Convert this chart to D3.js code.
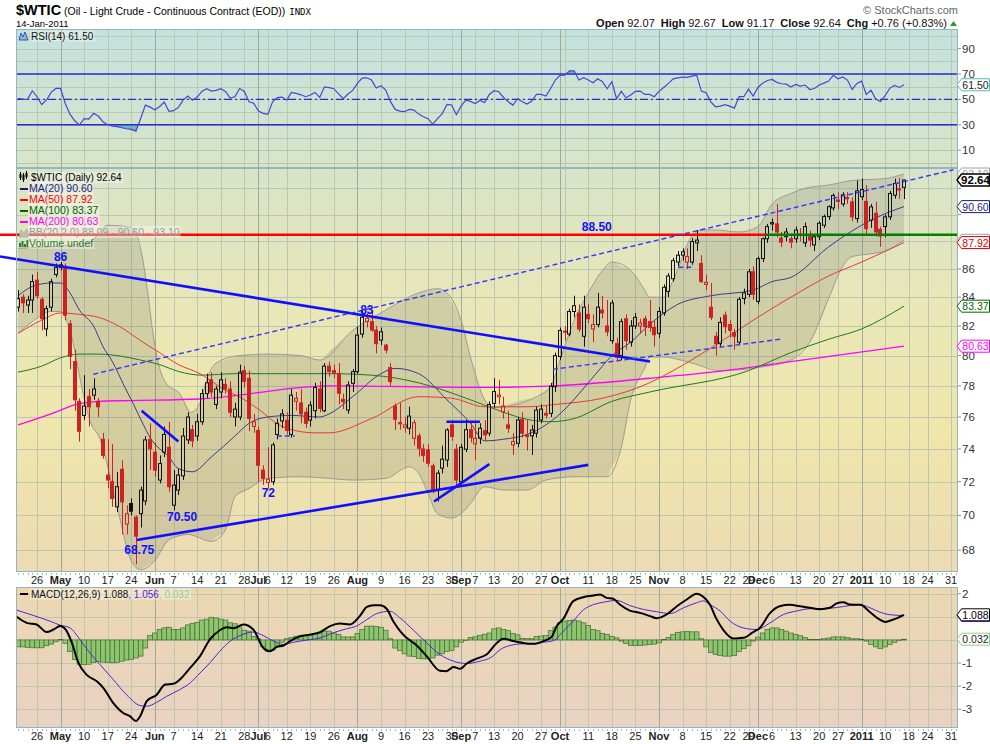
<!DOCTYPE html>
<html><head><meta charset="utf-8">
<script src="https://cdn.jsdelivr.net/npm/d3@7"></script>
<style>body{margin:0;background:#fff}svg{display:block}text{font-family:"Liberation Sans",Arial,sans-serif}</style>
</head><body><svg id="c" width="990" height="744"></svg>
<script>
// ---------------- DATA ----------------
// daily candles, first bar = 2010-04-20, last bar = 2011-01-14
const dataStart = "2010-04-20";
const holidays = ["2010-05-31","2010-07-05","2010-09-06","2010-11-25","2010-12-24","2011-01-17"];
const opens = [83.3,84.0,83.45,83.8,85.2,83.85,81.8,83.3,85.6,86.1,
86.15,82.15,79.6,77.0,76.1,77.3,77.4,77.0,74.6,72.4,
72.0,70.5,72.75,69.5,70.7,69.9,70.1,70.85,74.6,73.8,
72.1,73.8,74.1,70.6,71.5,72.35,74.56,75.2,74.8,75.7,
77.5,78.4,76.8,77.6,78.1,77.8,76.0,76.0,79.0,78.5,
75.4,75.15,72.7,71.95,72.0,74.9,75.75,75.8,74.9,77.0,
76.9,76.3,75.8,76.4,77.8,76.4,79.3,79.0,78.82,77.13,
76.44,78.17,78.93,81.45,82.3,82.3,81.72,81.04,80.7,79.2,
76.7,75.64,75.35,75.29,74.66,74.81,74.0,73.94,72.96,71.5,
72.82,73.32,75.5,73.98,72.0,73.98,75.2,74.31,74.66,75.14,
74.98,76.87,77.3,76.33,75.5,74.25,74.35,75.85,74.85,74.81,
74.98,75.81,76.23,76.23,77.95,79.93,81.65,81.45,83.0,82.9,
81.3,82.8,81.8,82.1,83.1,82.0,81.0,80.8,80.0,82.5,
80.9,82.0,82.0,82.5,82.3,81.9,81.5,82.9,84.4,85.3,
86.5,87.0,86.5,86.5,87.9,86.4,84.9,83.3,81.3,80.8,
82.75,82.1,81.55,80.9,83.9,84.2,85.8,83.7,86.75,88.2,
89.3,89.3,88.25,88.35,88.2,88.2,88.55,87.9,88.35,87.75,
88.35,89.2,89.85,90.5,91.1,90.8,91.3,90.96,89.7,91.35,
91.0,89.58,90.1,88.9,89.1,89.83,91.47,91.95,92.07];
const highs = [84.5,84.2,84.1,85.6,85.8,84.0,83.4,85.3,86.4,86.5,
86.4,82.4,80.4,77.2,78.7,77.8,78.5,77.2,75.0,74.6,
74.3,72.6,73.3,70.6,71.0,70.0,71.7,74.8,75.6,74.4,
73.6,75.4,75.7,72.7,72.8,75.3,76.3,75.5,76.2,77.8,
78.8,78.9,78.0,78.9,78.5,78.3,76.9,79.4,79.3,79.0,
76.2,75.4,73.0,74.1,74.4,75.9,76.5,76.3,77.8,77.6,
77.8,76.6,77.0,78.2,78.3,79.5,79.6,79.4,79.5,77.5,
78.3,79.1,81.96,83.15,82.9,83.1,82.0,81.9,80.8,79.5,
76.87,76.9,76.0,76.66,75.81,74.98,74.3,74.3,73.1,72.7,
74.2,75.29,75.8,74.3,74.3,75.81,75.7,75.7,75.6,75.8,
77.0,78.5,78.4,77.3,76.4,74.98,76.0,76.3,75.8,75.5,
76.66,76.8,76.7,78.2,80.2,81.9,82.0,83.2,84.1,83.5,
84.1,83.5,82.8,84.3,84.1,83.8,83.8,81.2,82.5,82.8,
82.4,82.9,82.5,82.7,83.8,82.4,83.3,84.9,85.7,86.8,
87.3,87.5,87.5,88.25,88.85,87.0,85.6,85.0,81.6,82.6,
83.0,82.4,81.8,84.0,84.6,86.0,86.2,86.9,88.3,89.3,
89.7,90.8,88.7,89.0,88.6,89.1,89.0,89.4,88.8,88.5,
89.5,90.0,90.7,91.6,91.7,91.7,91.7,91.3,92.6,92.75,
92.25,90.8,90.96,89.1,90.0,91.8,92.75,92.8,92.67];
const lows = [83.0,82.9,82.9,82.9,83.9,81.7,81.3,83.0,85.4,85.9,
82.4,79.1,76.4,74.45,75.8,75.4,77.1,76.0,73.4,71.6,
70.5,70.2,68.9,68.9,70.0,67.2,69.3,70.6,72.7,72.3,
71.9,73.5,71.4,70.3,71.2,72.1,74.3,74.1,74.5,75.5,
77.2,77.3,76.5,77.2,77.5,76.0,75.4,75.8,77.9,75.1,
75.0,72.0,71.8,71.6,71.8,74.6,75.3,74.9,74.7,76.4,
75.6,75.3,75.4,75.9,76.3,76.3,78.6,78.5,76.8,76.5,
76.2,77.6,78.8,81.2,81.9,81.6,80.15,80.7,80.15,78.0,
75.18,75.2,75.0,74.9,74.2,73.53,73.2,72.9,71.3,70.82,
72.5,72.9,74.5,71.8,71.9,73.8,74.4,73.32,74.3,74.5,
74.8,76.6,76.8,75.9,75.0,73.63,74.1,74.7,73.9,73.63,
74.7,75.6,75.9,76.0,77.6,79.7,81.0,81.3,82.6,81.6,
80.6,82.2,80.9,81.9,82.5,81.3,80.8,79.6,79.7,80.4,
80.6,81.8,81.5,81.3,81.6,80.6,81.2,82.7,84.0,85.1,
86.2,86.6,86.0,86.3,87.3,85.0,84.5,82.4,80.0,80.6,
81.5,81.2,80.4,80.7,83.5,84.0,83.8,83.5,86.5,87.9,
88.8,88.3,87.6,88.0,87.5,87.9,88.0,87.6,87.6,87.3,
88.1,89.0,89.6,90.3,90.4,90.6,90.8,89.5,89.4,91.1,
88.47,89.0,88.35,87.6,88.3,89.6,91.2,91.2,91.17];
const closes = [83.9,83.6,83.8,85.1,84.1,82.5,83.2,85.1,86.1,86.3,
82.75,79.95,77.1,75.1,76.7,76.65,77.8,76.65,73.6,72.1,
71.0,71.7,70.8,70.1,70.25,68.8,71.5,74.56,74.0,72.7,
73.1,74.9,71.7,71.8,72.4,74.8,76.0,74.5,75.7,77.5,
78.2,77.6,77.8,78.4,77.8,76.3,76.5,78.9,78.3,75.9,
75.7,73.0,72.2,72.15,74.25,75.6,76.2,75.15,77.4,77.2,
76.2,75.6,76.76,77.9,76.55,79.3,78.93,78.85,77.52,76.98,
78.06,78.93,81.38,82.6,82.53,81.72,80.8,81.61,80.37,78.28,
75.85,75.56,75.5,76.06,75.64,74.04,73.6,73.12,71.5,72.52,
73.37,75.18,74.77,72.1,74.1,75.2,74.7,74.66,75.29,74.87,
76.8,77.63,77.41,76.7,75.29,74.46,75.81,74.98,74.77,75.18,
76.44,76.5,76.12,77.98,80.0,81.7,81.6,83.0,83.4,81.8,
83.3,82.5,82.1,83.3,82.9,81.6,83.6,79.9,82.3,81.0,
82.0,82.6,82.2,81.95,81.9,81.4,83.0,84.7,85.5,86.6,
87.0,87.25,86.9,88.0,88.1,85.1,85.05,82.6,80.8,82.25,
81.95,81.7,81.3,83.85,84.3,85.8,84.2,86.75,88.2,89.1,
89.4,88.7,87.95,88.7,87.95,88.85,88.45,89.1,88.1,88.35,
89.35,89.85,90.6,91.45,91.0,91.5,91.2,89.83,91.8,91.9,
88.95,90.58,88.7,88.4,89.83,91.6,92.37,91.88,92.64];
// RSI(14), one value per bar (same dates as the candles)
const rsi = [50.8,50.2,50.0,56.8,52.1,46,49.4,55.5,58.6,58.6,
46.8,38.4,33.2,29.8,34.8,34.5,39,36.9,32.4,30,
29,28.5,27.7,26.9,26.4,25,35,45.5,43.9,41.8,
44.2,47.9,40.6,41.1,43.7,49.4,52.6,49.4,51.8,56.3,
58.4,56.5,57.1,58.4,56.3,51,52.1,58.6,56.3,48.1,
47,40.8,39,38.2,48.1,51.5,51.8,49.4,55.5,54.7,
53.6,52.1,53.4,55.5,51.5,59.9,59.2,58.4,54.4,50.5,
54.2,57.1,62.6,66.8,67,65.2,58.9,60.7,57.3,48.4,
42.1,40.8,40.3,42.1,41.6,38.4,36.3,34.8,30.6,34.8,
38.7,46,45.5,37.9,44.7,49.4,48.4,46.8,49.2,47.6,
53.9,56.8,56,51.5,48.1,45.5,50.5,48.1,46.3,48.7,
53.9,53.9,52.6,58.6,65.2,68.9,69.1,72.5,72.5,65.2,
67,65.2,63.1,66.2,63.9,58.4,63.9,50.5,56.3,51.3,
53.4,56.3,56.5,53.9,53.9,52.1,56.3,59.4,62.6,66.2,
67,67.6,67.3,68.3,69.1,56.5,55.2,48.1,44.2,44.7,
45.8,44.7,43.1,52.1,52.1,58.1,52.6,59.4,62.8,64.9,
65.7,63.4,62.3,62,59.7,61.8,60.5,61.3,57.8,58.6,
61.3,62.8,64.4,68.9,66.2,67.6,65.2,57.8,62.6,64.4,
53.9,57.3,50.2,48.4,52.9,58.9,61,59.4,61.5];
// MACD histogram, one value per bar
const macdHist = [-0.30,-0.30,-0.32,-0.34,-0.34,-0.34,-0.25,-0.18,-0.08,0.02,
-0.15,-0.5,-0.85,-1.05,-1.07,-1.05,-0.98,-0.94,-0.96,-0.98,
-0.99,-0.97,-0.92,-0.87,-0.84,-0.78,-0.70,-0.35,0.20,0.30,
0.45,0.52,0.55,0.45,0.45,0.52,0.65,0.72,0.76,0.86,
0.90,0.98,0.95,0.90,0.86,0.74,0.70,0.56,0.42,0.38,
0.15,0.05,-0.30,-0.49,-0.45,-0.25,-0.10,0.05,0.10,0.16,
0.18,0.19,0.20,0.28,0.30,0.38,0.38,0.30,0.23,0.13,
0.13,0.13,0.28,0.45,0.60,0.60,0.58,0.55,0.42,0.05,
-0.35,-0.45,-0.60,-0.70,-0.72,-0.80,-0.82,-0.82,-0.78,-0.66,
-0.60,-0.50,-0.45,-0.30,-0.10,-0.03,0.10,0.13,0.20,0.25,
0.30,0.48,0.52,0.45,0.40,0.28,0.22,0.07,0.05,0.05,
0.15,0.17,0.19,0.40,0.55,0.76,0.81,0.84,0.86,0.82,
0.74,0.62,0.45,0.40,0.28,0.23,0.15,0.09,-0.05,-0.15,
-0.24,-0.24,-0.24,-0.22,-0.20,-0.18,-0.13,0.02,0.10,0.23,
0.33,0.35,0.36,0.35,0.35,0.05,-0.30,-0.55,-0.63,-0.68,
-0.70,-0.70,-0.67,-0.50,-0.38,-0.25,-0.05,0.12,0.30,0.45,
0.52,0.52,0.45,0.38,0.30,0.23,0.18,0.10,0.02,0.02,
0.02,0.05,0.08,0.13,0.13,0.13,0.10,0.05,0.05,0.03,
-0.05,-0.20,-0.30,-0.38,-0.30,-0.20,-0.10,-0.02,0.03];
// smooth overlay lines, sampled as [bar index (0 = 2010-04-26), value]
const ma20 = [[-4,84.1],[-1,84.75],[3,85.0],[5,85.0],[7,84.3],[9,83.1],[12,82.0],[14,80.6],[16,79.6],[18.5,78.0],[20.5,76.8],[22.6,75.5],[24,74.7],[28,73.5],[30,72.8],[33,72.6],[37,73.5],[42,74.8],[45,75.6],[49,76.0],[54,76.1],[60,76.0],[62,76.2],[67,77.3],[73,78.8],[76,79.15],[81,78.8],[87,77.1],[92,75.6],[95,74.5],[99,74.6],[104,74.9],[108,75.5],[111,76.2],[117,78.2],[120,79.3],[122,80.0],[126,80.9],[130,82.1],[136,83.5],[143,84.1],[152,84.5],[156,85.1],[160,85.4],[168,87.6],[175,89.2],[178,89.75],[184,90.6]];
const ma50 = [[-4,81.5],[1,82.4],[5,82.9],[9,82.8],[13,82.6],[17.6,81.95],[22,81.0],[26,80.2],[30,79.4],[34.6,78.8],[39,77.9],[44,77.1],[47,76.5],[52,75.4],[59,75.0],[62,75.0],[71,75.9],[81,77.3],[88,77.2],[95,76.65],[104,76.65],[110,76.8],[120,77.2],[130,78.2],[135,79.0],[143,80.5],[152,82.4],[160,84.0],[168,85.5],[175,86.5],[184,87.92]];
const ma100 = [[-4,78.9],[1,79.3],[5,79.85],[9,80.1],[13,80.1],[18,79.95],[22,79.7],[26,79.4],[30,78.95],[35,78.7],[42,78.8],[62,78.8],[71,78.7],[81,78.2],[92,77.1],[99,76.3],[104,75.85],[109,75.7],[114,75.9],[122,77.0],[130,77.6],[151,79.0],[160,80.2],[168,81.1],[175,81.8],[184,83.37]];
const ma200 = [[-4,75.5],[3,76.2],[8.4,76.8],[13,77.0],[20,77.05],[34.6,77.15],[62,78.0],[95,77.9],[110,78.0],[130,78.5],[146,79.0],[160,79.6],[184,80.63]];
const bbUpper = [[-4,87.5],[11,87.9],[15,89.2],[20,89.05],[22.1,87.3],[23.4,84.6],[24.7,81.3],[26,79.2],[27.6,78.1],[30.3,77.5],[32.6,76.3],[34.6,76.9],[36,78.4],[38,79.5],[43,80.0],[49,80.1],[56,80.0],[60,79.7],[67,81.7],[74,83.1],[81,84.3],[85,84.6],[87,84.3],[90,82.4],[92,79.9],[95,77.1],[97,76.6],[106,77.3],[109,77.95],[111,79.7],[114,82.4],[117,84.3],[120,85.9],[122,86.5],[126,85.9],[129,84.5],[130,84.0],[133,84.0],[135,85.2],[139,88.4],[141,88.85],[144,88.85],[149,88.7],[153,89.1],[156,90.8],[160,91.6],[163,92.0],[168,92.25],[173,92.6],[180,92.75],[184,93.1]];
const bbLower = [[-4,81.5],[-1,82.3],[3,83.0],[5,83.0],[7,81.7],[9.8,77.5],[11.2,75.8],[13.4,74.6],[17,70.5],[20,67.4],[22,66.9],[25,67.4],[28,68.6],[32,68.9],[37,68.5],[40,69.15],[42,71.1],[45,71.6],[49,72.2],[56,72.3],[62,72.2],[67,72.1],[74,72.2],[79,72.9],[81,72.5],[83,71.3],[85,70.1],[88,69.85],[90,70.1],[92,70.7],[95,71.7],[99,71.5],[104,71.5],[108,72.1],[114,72.3],[121,72.3],[124,74.1],[126,77.1],[129,79.2],[130,79.9],[133,79.9],[139,79.5],[145,79.0],[153,79.2],[160,79.7],[164,80.9],[168,83.9],[171,86.2],[173,86.9],[177,87.1],[180,87.3],[184,88.09]];
const macdLine = [[-4.3,1.0],[-2.2,0.74],[-0.1,0.67],[2.05,0.34],[3.5,0.45],[4.9,0.60],[6.3,0.38],[7.4,-0.13],[8.8,-0.99],[10.5,-1.50],[12.7,-1.79],[14.1,-2.08],[16.2,-2.73],[18.3,-3.16],[19.7,-3.30],[21,-3.51],[21.9,-3.30],[23.3,-2.65],[25.4,-2.37],[27.2,-1.93],[28.9,-1.90],[30.7,-1.64],[32.5,-1.21],[34.6,-0.70],[36.7,0.02],[38.8,0.42],[40.3,0.55],[41.7,0.51],[43.8,0.67],[45.9,0.45],[48,-0.34],[49.4,-0.49],[50.9,-0.30],[52.3,-0.24],[53.7,-0.05],[55.8,0.16],[57.9,0.23],[60.1,0.34],[62.2,0.60],[64.3,0.71],[66.4,0.67],[68.5,1.03],[70,1.43],[71.4,1.50],[72.8,1.50],[74.2,1.35],[75.6,0.81],[77.7,0.23],[80.6,-0.24],[82.7,-0.70],[85.5,-1.33],[86.9,-1.35],[88.4,-1.17],[89.8,-1.25],[91.2,-1.02],[93.3,-0.81],[95.4,-0.63],[97.6,-0.13],[99,0.05],[101.1,-0.05],[103.2,-0.13],[105.3,-0.17],[107.5,-0.05],[109.2,0.13],[110.3,0.60],[111.7,0.91],[113.8,1.68],[115.9,1.85],[118.1,1.92],[119.5,1.97],[120.9,1.82],[122.3,1.78],[123.7,1.53],[125.8,1.27],[128,1.17],[130.1,1.03],[131.5,0.94],[133.6,1.10],[135.8,1.46],[137.9,1.75],[140,2.0],[141.4,1.87],[142.8,1.53],[144.2,0.91],[145.6,0.45],[147.8,0.06],[149.9,0.09],[152,0.34],[153.4,0.52],[155.6,1.17],[157.6,1.46],[159.8,1.52],[161.9,1.46],[164,1.39],[166.1,1.33],[168.3,1.39],[169.7,1.58],[171.1,1.63],[172.5,1.53],[174.7,1.52],[176.8,1.20],[178.6,0.91],[180,0.78],[181.7,0.88],[184,1.088]];
const macdSignal = [[-4.3,1.29],[-0.8,1.06],[2.8,0.81],[4.9,0.64],[7,0.52],[9.1,0.02],[11.2,-0.56],[13.4,-1.07],[16.2,-1.72],[19,-2.37],[21.9,-2.84],[23.3,-2.87],[25.4,-2.70],[27.5,-2.44],[30.3,-2.15],[32.5,-1.86],[34.6,-1.43],[36.7,-0.99],[38.8,-0.49],[41,-0.05],[43.1,0.19],[45.9,0.34],[48,0.19],[50.2,-0.05],[52.3,-0.20],[54.4,-0.10],[57.2,-0.01],[60.1,0.09],[62.9,0.31],[65.7,0.48],[67.8,0.60],[70,0.88],[72.1,1.14],[74.9,1.24],[77,0.96],[79.9,0.42],[82.7,-0.13],[85.5,-0.63],[88.4,-0.92],[91.2,-1.02],[94,-0.92],[96.5,-0.74],[98.3,-0.42],[100.4,-0.24],[103.2,-0.17],[105.3,-0.17],[107.5,-0.10],[109.6,-0.03],[111.7,0.38],[113.8,0.81],[115.9,1.29],[118.1,1.53],[120.2,1.63],[123,1.71],[125.8,1.49],[128.7,1.32],[131.5,1.22],[134.4,1.14],[137.2,1.39],[140,1.61],[141.4,1.69],[142.8,1.53],[145,1.25],[147.1,0.81],[149.9,0.52],[152.7,0.45],[155.6,0.74],[158.4,1.10],[161.2,1.25],[164,1.35],[166.9,1.36],[169.7,1.40],[172.5,1.49],[174.7,1.53],[176.8,1.39],[178.9,1.20],[181,1.09],[184,1.056]];
// hand-drawn annotations: [bar index, price]
const trendSolid = [ [[-7.85,86.9],[130.1,79.6]], [[21.16,68.58],[117,73.02]], [[22.2,76.4],[30,74.46]], [[84.25,70.82],[96,73.07]], [[86.9,75.7],[94,75.7]] ];
const trendDashed = [ [[11.95,78.76],[194.5,93.43]], [[109.5,79.09],[157.7,81.1]], [[50.9,74.8],[54.7,74.8]], [[136.1,86.13],[138.9,86.13]] ];
const resistance = 88.5, resistanceSwitch = 154.7;
const noteLabels = [["86",5,86.55],["83",70,82.8],["88.50",118.8,88.75],["68.75",21.7,67.8],["70.50",30.8,69.7],["72",49.1,71.1]];
// axis ticks and legend values
const priceTicks = [68,70,72,74,76,78,80,82,84,86,88,90,92];
const rsiTicks = [10,30,50,70,90];
const macdTicks = [-3,-2,-1,0,1,2];
const monthNames = ["Jan","Feb","Mar","Apr","May","Jun","Jul","Aug","Sep","Oct","Nov","Dec"];
const quoteLabels = ["Open","High","Low","Close","Chg"];
const quoteValues = ["92.07","92.67","91.17","92.64","+0.76 (+0.83%)"];
const last = {close:92.64, rsi:61.50, ma20:90.60, ma50:87.92, ma100:83.37, ma200:80.63, bbL:88.09, bbM:90.60, bbU:93.10, macd:1.088, sig:1.056, hist:0.032};

// ---------------- LAYOUT ----------------
const L=16, R=958, rsiTop=29, rsiBot=168, mainTop=168, mainBot=572, macdTop=587, macdBot=728;
const svg = d3.select("#c");
const defs = svg.append("defs");
function grad(id, stops){const g=defs.append("linearGradient").attr("id",id).attr("x1",0).attr("y1",0).attr("x2",0).attr("y2",1);stops.forEach(s=>g.append("stop").attr("offset",s[0]).attr("stop-color",s[1]));}
grad("gRsi",[[0,"#c3e2df"],[1,"#d8e5c8"]]);
grad("gMain",[[0,"#d8e3c8"],[0.35,"#e9e7b7"],[0.65,"#efe6ab"],[1,"#ecdab3"]]);
grad("gMacd",[[0,"#ecd7b1"],[1,"#e9d2c2"]]);
function clip(id,y0,y1){defs.append("clipPath").attr("id",id).append("rect").attr("x",L).attr("y",y0).attr("width",R-L).attr("height",y1-y0);}
clip("cRsi",rsiTop,rsiBot); clip("cMain",mainTop,mainBot); clip("cMacd",macdTop,macdBot);

const x = d3.scaleLinear().domain([0,184]).range([37,904]);
const step = x(1)-x(0);
const yR = d3.scaleLinear().domain([-4.0,105.4]).range([rsiBot,rsiTop]);
const yP = d3.scaleLog().domain([66.77,93.57]).range([mainBot,mainTop]);
const yM = d3.scaleLinear().domain([-3.81,2.29]).range([macdBot,macdTop]);

// trading calendar
const ymd = d => d.toISOString().slice(0,10);
const cal = [];
for(let t=Date.UTC(2010,3,19); t<=Date.UTC(2011,1,4); t+=864e5){const d=new Date(t),w=d.getUTCDay(); if(w===0||w===6||holidays.includes(ymd(d))) continue; cal.push(d);}
const base = cal.findIndex(d=>ymd(d)==="2010-04-26");
const startIdx = cal.findIndex(d=>ymd(d)===dataStart) - base;
const ticks=[]; let lastMonth=-99;
cal.forEach((d,k)=>{ if(k===0) return; const p=cal[k-1], i=k-base;
  if(d.getUTCMonth()!==p.getUTCMonth()){ lastMonth=i; ticks.push({i,month:true,label:d.getUTCMonth()===0?String(d.getUTCFullYear()):monthNames[d.getUTCMonth()]}); }
  else if(d.getUTCDay()<p.getUTCDay()){ ticks.push({i,month:false,label:(i-lastMonth<2)?null:String(d.getUTCDate())}); }
});
const vis = ticks.filter(t=>x(t.i)>L+2 && x(t.i)<R-5);

// backgrounds
[[rsiTop,rsiBot,"gRsi"],[mainTop,mainBot,"gMain"],[macdTop,macdBot,"gMacd"]].forEach(p=>svg.append("rect").attr("x",L).attr("y",p[0]).attr("width",R-L).attr("height",p[1]-p[0]).attr("fill",`url(#${p[2]})`));

// grids
const grid = svg.append("g");
function hgrid(vals,sc){vals.forEach(v=>grid.append("line").attr("x1",L).attr("x2",R).attr("y1",Math.round(sc(v))+0.5).attr("y2",Math.round(sc(v))+0.5).attr("stroke","#bcc6b0").attr("stroke-width",1));}
hgrid(d3.range(0,101,10),yR); hgrid(priceTicks,yP); hgrid(macdTicks,yM);
[[rsiTop,rsiBot],[mainTop,mainBot],[macdTop,macdBot]].forEach(p=>{
  vis.forEach(t=>{const xx=Math.round(x(t.i))+0.5; grid.append("line").attr("x1",xx).attr("x2",xx).attr("y1",p[0]).attr("y2",p[1]).attr("stroke",t.month?"#9eaa9c":"#bcc6b0").attr("stroke-width",1);});
});

// ---------- RSI panel ----------
const gR = svg.append("g").attr("clip-path","url(#cRsi)");
const rsiPts = rsi.map((v,k)=>({i:k+startIdx,v}));
defs.append("clipPath").attr("id","cLo").append("rect").attr("x",L).attr("y",yR(30)).attr("width",R-L).attr("height",rsiBot-yR(30));
defs.append("clipPath").attr("id","cHi").append("rect").attr("x",L).attr("y",rsiTop).attr("width",R-L).attr("height",yR(70)-rsiTop);
gR.append("path").datum(rsiPts).attr("d",d3.area().x(d=>x(d.i)).y0(yR(30)).y1(d=>yR(d.v))).attr("fill","#6fb9b6").attr("clip-path","url(#cLo)");
gR.append("path").datum(rsiPts).attr("d",d3.area().x(d=>x(d.i)).y0(yR(70)).y1(d=>yR(d.v))).attr("fill","#6fb9b6").attr("clip-path","url(#cHi)");
[70,30].forEach(v=>gR.append("line").attr("x1",L).attr("x2",R).attr("y1",yR(v)).attr("y2",yR(v)).attr("stroke","#2b2bd0").attr("stroke-width",1.4));
gR.append("line").attr("x1",L).attr("x2",R).attr("y1",yR(50)).attr("y2",yR(50)).attr("stroke","#2b2bd0").attr("stroke-width",1.2).attr("stroke-dasharray","8,3,2,3");
gR.append("path").datum(rsiPts).attr("d",d3.line().x(d=>x(d.i)).y(d=>yR(d.v))).attr("fill","none").attr("stroke","#4646d8").attr("stroke-width",1.2);

// ---------- main panel ----------
const gP = svg.append("g").attr("clip-path","url(#cMain)");
const curve = d3.curveMonotoneX;
function mergeBands(){ // pair each sample date with both bands
  const all = Array.from(new Set(bbUpper.map(d=>d[0]).concat(bbLower.map(d=>d[0])))).sort((a,b)=>a-b);
  const up = d3.scaleLinear().domain(bbUpper.map(d=>d[0])).range(bbUpper.map(d=>d[1]));
  const lo = d3.scaleLinear().domain(bbLower.map(d=>d[0])).range(bbLower.map(d=>d[1]));
  return all.map(i=>[i,up(i),lo(i)]);
}
gP.append("path").attr("d", d3.area().curve(curve).x(d=>x(d[0])).y0(d=>yP(d[2])).y1(d=>yP(d[1]))(mergeBands())).attr("fill","#77776a").attr("fill-opacity",0.22);
const lineGen = d3.line().curve(curve).x(d=>x(d[0])).y(d=>yP(d[1]));
gP.append("path").attr("d",lineGen(bbUpper)).attr("fill","none").attr("stroke","#9b9b95").attr("stroke-width",1);
gP.append("path").attr("d",lineGen(bbLower)).attr("fill","none").attr("stroke","#9b9b95").attr("stroke-width",1);
[[ma200,"#ff00ff",1.3],[ma100,"#1e7a1e",1],[ma50,"#e63a3a",1],[ma20,"#3a3a8e",1]].forEach(m=>gP.append("path").attr("d",lineGen(m[0])).attr("fill","none").attr("stroke",m[1]).attr("stroke-width",m[2]));
// candles
closes.forEach((c,k)=>{
  const o=opens[k],h=highs[k],l=lows[k],i=k+startIdx;
  const prev = k>0?closes[k-1]:o;
  const col = c>=prev ? "#111" : "#cc2222";
  const hollow = c>=o;
  const cx = Math.round(x(i))+0.5;
  const top = yP(Math.max(o,c)), bot = yP(Math.min(o,c));
  gP.append("line").attr("x1",cx).attr("x2",cx).attr("y1",yP(h)).attr("y2",top).attr("stroke",col);
  gP.append("line").attr("x1",cx).attr("x2",cx).attr("y1",bot).attr("y2",yP(l)).attr("stroke",col);
  gP.append("rect").attr("x",cx-2).attr("y",top).attr("width",3).attr("height",Math.max(bot-top,1)).attr("fill",hollow?"none":col).attr("stroke",col).attr("stroke-width",1);
});
// annotations
const gA = svg.append("g");
gA.append("line").attr("x1",x(-7.85)).attr("x2",x(resistanceSwitch)).attr("y1",yP(resistance)).attr("y2",yP(resistance)).attr("stroke","#ff0000").attr("stroke-width",2.5);
gA.append("line").attr("x1",x(resistanceSwitch)).attr("x2",R).attr("y1",yP(resistance)).attr("y2",yP(resistance)).attr("stroke","#008000").attr("stroke-width",2.5);
trendSolid.forEach(s=>gA.append("line").attr("x1",x(s[0][0])).attr("y1",yP(s[0][1])).attr("x2",x(s[1][0])).attr("y2",yP(s[1][1])).attr("stroke","#1010ff").attr("stroke-width",2.6));
trendDashed.forEach(s=>{const x0=x(s[0][0]),x1=x(s[1][0]),y0=yP(s[0][1]),y1=yP(s[1][1]);const xe=Math.min(x1,R-4);
  gA.append("line").attr("x1",x0).attr("y1",y0).attr("x2",xe).attr("y2",y0+(y1-y0)*(xe-x0)/(x1-x0)).attr("stroke","#3535ff").attr("stroke-width",1.4).attr("stroke-dasharray","5,3");});
noteLabels.forEach(n=>gA.append("text").attr("x",x(n[1])).attr("y",yP(n[2])).attr("text-anchor","middle").attr("font-weight","bold").attr("font-size",12).attr("fill","#1010ff").text(n[0]));

// ---------- MACD panel ----------
const gM = svg.append("g").attr("clip-path","url(#cMacd)");
macdHist.forEach((v,k)=>{const i=k+startIdx; gM.append("rect").attr("x",x(i)-step/2).attr("width",step).attr("y",Math.min(yM(0),yM(v))).attr("height",Math.max(Math.abs(yM(v)-yM(0)),0.5)).attr("fill","#8fc56f").attr("stroke","#3f6d2f").attr("stroke-width",0.7);});
const mLine = d3.line().curve(curve).x(d=>x(d[0])).y(d=>yM(d[1]));
gM.append("path").attr("d",mLine(macdSignal)).attr("fill","none").attr("stroke","#4b25dc").attr("stroke-width",1);
gM.append("path").attr("d",mLine(macdLine)).attr("fill","none").attr("stroke","#000").attr("stroke-width",2);

// ---------- borders, axes ----------
[[rsiTop,rsiBot],[mainTop,mainBot],[macdTop,macdBot]].forEach(p=>svg.append("rect").attr("x",L+0.5).attr("y",p[0]+0.5).attr("width",R-L-1).attr("height",p[1]-p[0]-1).attr("fill","none").attr("stroke","#93b6be"));
// value tags (drawn later) hide the axis labels they sit on
const tagDefs = [
  [last.rsi,yR,last.rsi.toFixed(2),"#5fb3b3","#222",false],
  [last.bbU,yP,last.bbU.toFixed(2),"#a0a0a0","#999",false],
  [last.close,yP,last.close.toFixed(2),"#000","#000",true],
  [last.ma20,yP,last.ma20.toFixed(2),"#1c1c80","#1c1c80",false],
  [last.bbL,yP,last.bbL.toFixed(2),"#a0a0a0","#999",false],
  [last.ma50,yP,last.ma50.toFixed(2),"#e00000","#e00000",false],
  [last.ma100,yP,last.ma100.toFixed(2),"#006400","#006400",false],
  [last.ma200,yP,last.ma200.toFixed(2),"#ff00ff","#ff00ff",false],
  [last.sig,yM,last.sig.toFixed(3),"#4b25dc","#4b25dc",false],
  [last.macd,yM,last.macd.toFixed(3),"#000","#000",false],
  [last.hist,yM,last.hist.toFixed(3),"#8fcf7f","#222",false]];
const tagYs = tagDefs.map(t=>t[1](t[0]));
function rightAxis(vals,sc){vals.forEach(v=>{const yy=sc(v); svg.append("line").attr("x1",R).attr("x2",R+3).attr("y1",yy).attr("y2",yy).attr("stroke","#7a9aa4");
  if(tagYs.some(ty=>Math.abs(ty-yy)<9)) return;
  svg.append("text").attr("x",962).attr("y",yy+4).attr("font-size",11.5).attr("fill","#333").text(String(v));});}
rightAxis(rsiTicks,yR); rightAxis(priceTicks,yP); rightAxis(macdTicks,yM);
// x labels
[584,740].forEach(yy=>{
  const tb = yy===584?mainBot:macdBot;
  cal.forEach((d,k)=>{const xx=Math.round(x(k-base))+0.5; if(xx>L&&xx<R) svg.append("line").attr("x1",xx).attr("x2",xx).attr("y1",tb+1).attr("y2",tb+3).attr("stroke","#a8b8bc");});
  vis.forEach(t=>{ if(!t.label) return; svg.append("text").attr("x",x(t.i)).attr("y",yy).attr("text-anchor","middle").attr("font-size",11).attr("font-weight",t.month?"bold":"normal").attr("fill","#222").text(t.label);});
});
tagDefs.forEach(t=>{const yy=t[1](t[0]), bold=t[5]; const g=svg.append("g");
  g.append("path").attr("d",`M957,${yy} L961.5,${yy-6} L989.5,${yy-6} L989.5,${yy+6} L961.5,${yy+6} Z`).attr("fill","#fff").attr("stroke",t[3]).attr("stroke-width",bold?1.4:1);
  g.append("text").attr("x",975.5).attr("y",yy+4).attr("text-anchor","middle").attr("font-size",bold?11.5:10.5).attr("font-weight",bold?"bold":"normal").attr("fill",t[4]).text(t[2]);});

// ---------- legends ----------
function legendText(xx,yy,parts,size,fam){const t=svg.append("text").attr("x",xx).attr("y",yy).attr("font-size",size);if(fam)t.attr("font-family",fam);
  parts.forEach(p=>t.append("tspan").attr("fill",p[1]).text(p[0]));
  const b=t.node().getBBox(); svg.insert("rect",function(){return t.node();}).attr("x",b.x-1).attr("y",b.y).attr("width",b.width+2).attr("height",b.height).attr("fill","#fff").attr("fill-opacity",0.35); return t;}
svg.append("path").attr("d","M19,40 L21,33 L23,37 L25,32 L28,40 Z").attr("fill","#7cc4c0").attr("stroke","#2b2bd0").attr("stroke-width",0.8);
legendText(31,39.5,[[`RSI(14) ${last.rsi.toFixed(2)}`,"#111"]],10,"DejaVu Sans Mono");
const g0 = svg.append("g");
[[20,173,179],[23,174,181],[26,172,178]].forEach(c=>{g0.append("line").attr("x1",c[0]+0.5).attr("x2",c[0]+0.5).attr("y1",c[1]-1).attr("y2",c[2]+1).attr("stroke","#000");g0.append("rect").attr("x",c[0]-0.5).attr("y",c[1]+1).attr("width",2).attr("height",c[2]-c[1]-2).attr("fill","#000");});
legendText(31,181,[[`$WTIC (Daily) ${last.close.toFixed(2)}`,"#000"]],10,"DejaVu Sans Mono");
const maLeg=[[`MA(20) ${last.ma20.toFixed(2)}`,"#1c1c80"],[`MA(50) ${last.ma50.toFixed(2)}`,"#ff0000"],[`MA(100) ${last.ma100.toFixed(2)}`,"#006400"],[`MA(200) ${last.ma200.toFixed(2)}`,"#ff00ff"]];
maLeg.forEach((m,j)=>{const yy=192+j*11; svg.append("rect").attr("x",20).attr("y",yy-4).attr("width",8).attr("height",2).attr("fill",m[1]); legendText(29,yy,[[m[0],m[1]]],10.5);});
svg.append("path").attr("d","M19,237 L21,230 L24,233 L27,229 L29,237 Z").attr("fill","#bdbdb0").attr("stroke","#a0a0a0").attr("stroke-width",0.6);
legendText(29,236,[[`BB(20,2.0) ${last.bbL.toFixed(2)} - ${last.bbM.toFixed(2)} - ${last.bbU.toFixed(2)}`,"#9a9a9a"]],10.5);
[[19,4],[21.5,6],[24,3],[26.5,7]].forEach(b=>svg.append("rect").attr("x",b[0]).attr("y",247-b[1]).attr("width",2).attr("height",b[1]).attr("fill","#2f7d2f"));
legendText(29,247,[["Volume undef","#2e7d32"]],10.5);
svg.append("rect").attr("x",20).attr("y",593).attr("width",8).attr("height",2).attr("fill","#000");
legendText(31,597.5,[[`MACD(12,26,9) ${last.macd.toFixed(3)}`,"#111"],[`, ${last.sig.toFixed(3)}`,"#4b25dc"],[`, ${last.hist.toFixed(3)}`,"#8fcf7f"]],10,"DejaVu Sans Mono");

// ---------- header ----------
const hd = svg.append("text").attr("x",16).attr("y",15);
hd.append("tspan").attr("font-weight","bold").attr("font-size",14.5).text("$WTIC");
hd.append("tspan").attr("font-size",10.5).attr("dx",3).text("(Oil - Light Crude - Continuous Contract (EOD))");
hd.append("tspan").attr("font-size",9).attr("dx",4).attr("font-family","DejaVu Sans Mono").text("INDX");
svg.append("text").attr("x",16).attr("y",27).attr("font-size",9.5).text("14-Jan-2011");
svg.append("text").attr("x",958).attr("y",14).attr("text-anchor","end").attr("font-size",11).attr("fill","#666").text("\u00a9 StockCharts.com");
const q = svg.append("text").attr("x",947).attr("y",27).attr("text-anchor","end").attr("font-size",11).attr("fill","#111");
quoteLabels.forEach((lab,j)=>{q.append("tspan").attr("font-weight","bold").attr("dx",j?6:0).text(lab); q.append("tspan").attr("dx",3).text(quoteValues[j]);});
svg.append("path").attr("d","M950,26 L953.5,21 L957,26 Z").attr("fill","#2a9a2a");
</script></body></html>
